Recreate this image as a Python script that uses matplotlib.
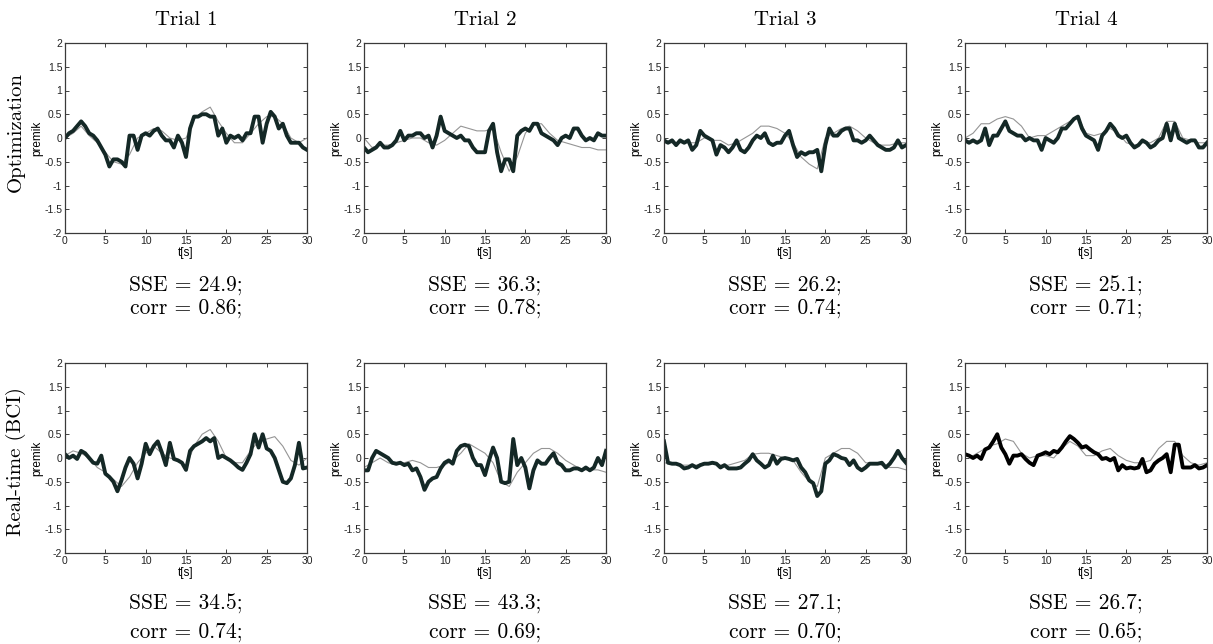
import numpy as np
import matplotlib
matplotlib.use('Agg')
import matplotlib.pyplot as plt

plt.rcParams['axes.unicode_minus'] = False

# Time bases (s): decoded output every 0.5 s, reference movement every 1 s
t_fit = np.arange(0, 30.01, 0.5)
t_ref = np.arange(0, 31, 1.0)

trials = ['Trial 1', 'Trial 2', 'Trial 3', 'Trial 4']
rows = ['Optimization', 'Real-time (BCI)']

# Optimization row: decoded movement (thick)
opt_fit_1 = [0.0, 0.1, 0.15, 0.25, 0.35, 0.25, 0.1, 0.05, -0.05, -0.2,
             -0.35, -0.6, -0.45, -0.45, -0.5, -0.6, 0.05, 0.05, -0.25, 0.05,
             0.1, 0.05, 0.15, 0.2, 0.05, -0.05, -0.05, -0.2, 0.05, -0.1,
             -0.4, 0.2, 0.45, 0.45, 0.5, 0.5, 0.45, 0.45, 0.05, 0.2,
             -0.1, 0.05, 0.0, 0.05, -0.05, 0.1, 0.1, 0.45, 0.45, -0.1,
             0.3, 0.55, 0.45, 0.2, 0.3, 0.05, -0.1, -0.1, -0.1, -0.2,
             -0.25]
opt_fit_2 = [-0.2, -0.3, -0.25, -0.2, -0.1, -0.2, -0.2, -0.15, -0.05, 0.15,
             -0.05, 0.05, 0.05, 0.1, 0.1, 0.0, 0.05, -0.2, 0.05, 0.45,
             0.15, 0.1, 0.05, 0.0, 0.05, -0.05, -0.05, -0.2, -0.3, -0.3,
             -0.3, 0.15, 0.3, -0.3, -0.7, -0.45, -0.45, -0.7, 0.05, 0.15,
             0.2, 0.15, 0.3, 0.3, 0.1, 0.05, 0.0, -0.05, -0.15, 0.0,
             0.05, 0.0, 0.2, 0.2, 0.05, -0.05, 0.0, -0.05, 0.1, 0.05,
             0.05]
opt_fit_3 = [-0.05, -0.1, -0.05, -0.15, -0.05, -0.1, -0.05, -0.25, -0.15, 0.15,
             0.05, 0.0, -0.05, -0.35, -0.15, -0.2, -0.3, -0.2, -0.05, -0.25,
             -0.3, -0.2, -0.05, 0.05, 0.0, 0.1, -0.1, -0.15, -0.1, -0.1,
             0.05, 0.15, -0.15, -0.4, -0.3, -0.35, -0.3, -0.3, -0.25, -0.7,
             -0.15, 0.2, 0.05, 0.05, 0.15, 0.2, 0.2, -0.05, -0.05, -0.1,
             -0.05, 0.05, -0.05, -0.15, -0.2, -0.25, -0.25, -0.2, -0.05, -0.2,
             -0.15]
opt_fit_4 = [-0.05, -0.1, -0.05, -0.1, -0.05, 0.2, -0.15, 0.05, 0.05, 0.2,
             0.35, 0.15, 0.1, 0.05, 0.05, -0.05, 0.0, -0.05, -0.05, -0.25,
             0.0, -0.05, -0.1, 0.0, 0.2, 0.2, 0.3, 0.4, 0.45, 0.2,
             0.05, 0.0, -0.05, -0.25, 0.05, 0.15, 0.3, 0.2, 0.05, 0.0,
             0.05, -0.1, -0.2, -0.15, -0.05, -0.1, -0.2, -0.15, -0.05, 0.0,
             0.3, -0.05, 0.3, 0.0, -0.05, -0.1, -0.05, -0.05, -0.2, -0.2,
             -0.1]

# Real-time (BCI) row: decoded movement (thick)
bci_fit_1 = [0.08, 0.0, 0.05, -0.02, 0.15, 0.1, 0.0, -0.1, -0.12, 0.05,
             -0.33, -0.4, -0.5, -0.7, -0.47, -0.2, 0.0, -0.12, -0.43, -0.12,
             0.3, 0.08, 0.25, 0.35, 0.12, -0.15, 0.32, -0.02, -0.05, -0.1,
             -0.25, 0.15, 0.25, 0.3, 0.35, 0.42, 0.35, 0.42, 0.0, 0.05,
             0.0, -0.05, -0.12, -0.2, -0.25, -0.1, 0.08, 0.5, 0.22, 0.5,
             0.2, 0.15, 0.0, -0.25, -0.5, -0.53, -0.43, -0.15, 0.32, -0.22,
             -0.2]
bci_fit_2 = [-0.26, -0.26, 0.0, 0.15, 0.1, 0.05, 0.0, -0.1, -0.12, -0.1,
             -0.15, -0.12, -0.26, -0.22, -0.4, -0.67, -0.5, -0.43, -0.4, -0.22,
             -0.1, -0.05, -0.12, 0.15, 0.25, 0.28, 0.25, 0.0, -0.15, -0.15,
             -0.36, -0.05, 0.22, 0.0, -0.5, -0.53, -0.5, 0.4, -0.15, 0.0,
             -0.2, -0.64, -0.26, -0.05, -0.12, -0.12, 0.0, 0.1, -0.1, -0.15,
             -0.26, -0.26, -0.22, -0.22, -0.26, -0.2, -0.26, -0.2, 0.0, -0.15,
             0.15]
bci_fit_3 = [0.35, -0.1, -0.12, -0.12, -0.15, -0.22, -0.2, -0.15, -0.2, -0.15,
             -0.12, -0.12, -0.1, -0.12, -0.2, -0.15, -0.22, -0.22, -0.22, -0.2,
             -0.12, -0.05, 0.08, -0.05, -0.12, -0.2, -0.15, 0.05, -0.12, -0.02,
             0.0, -0.02, -0.05, -0.02, -0.2, -0.3, -0.47, -0.53, -0.8, -0.7,
             -0.12, -0.05, 0.08, 0.05, 0.0, -0.02, -0.15, -0.05, -0.2, -0.26,
             -0.2, -0.12, -0.12, -0.12, -0.1, -0.2, -0.12, 0.0, 0.15, 0.0,
             -0.1]
bci_fit_4 = [0.08, 0.05, 0.0, 0.05, -0.02, 0.18, 0.22, 0.35, 0.5, 0.22,
             0.08, -0.12, 0.05, 0.05, 0.08, -0.02, -0.1, -0.15, 0.05, 0.08,
             0.12, 0.08, 0.15, 0.12, 0.22, 0.35, 0.46, 0.4, 0.32, 0.22,
             0.25, 0.18, 0.12, 0.08, -0.02, 0.0, -0.05, 0.0, -0.26, -0.15,
             -0.22, -0.2, -0.22, -0.2, -0.02, -0.3, -0.26, -0.12, -0.05, 0.0,
             0.08, -0.3, 0.28, 0.28, -0.2, -0.2, -0.2, -0.15, -0.22, -0.2,
             -0.15]

# Recorded movement (thin grey)
opt_ref_1 = [0.0, 0.1, 0.25, 0.05, -0.1, -0.3, -0.5, -0.55, -0.35, 0.0,
             0.1, 0.2, 0.15, 0.0, -0.05, 0.0, 0.4, 0.55, 0.65, 0.35,
             0.1, -0.1, -0.1, 0.1, 0.3, 0.45, 0.45, 0.3, 0.0, -0.1, 0.0]
opt_ref_2 = [0.0, -0.2, -0.15, -0.15, -0.1, -0.05, 0.0, 0.0, -0.1, -0.15,
             -0.05, 0.1, 0.25, 0.2, 0.15, 0.15, 0.2, -0.3, -0.7, -0.4,
             0.1, 0.3, 0.3, 0.1, -0.05, -0.1, -0.15, -0.2, -0.2, -0.25, -0.25]
opt_ref_3 = [-0.1, -0.1, -0.1, -0.1, -0.1, 0.0, -0.05, -0.05, -0.15, -0.1,
             0.0, 0.1, 0.25, 0.25, 0.2, 0.1, -0.1, -0.4, -0.55, -0.65,
             0.0, 0.1, 0.2, 0.25, 0.15, 0.0, -0.1, -0.15, -0.15, -0.1, -0.1]
opt_ref_4 = [0.0, 0.1, 0.3, 0.3, 0.4, 0.45, 0.4, 0.25, 0.0, 0.05,
             0.05, 0.15, 0.25, 0.35, 0.45, 0.1, 0.05, 0.1, 0.2, 0.1,
             -0.1, -0.15, -0.1, -0.1, 0.0, 0.35, 0.35, 0.0, -0.05, -0.1, -0.1]
bci_ref_1 = [0.05, 0.15, 0.1, 0.0, -0.2, -0.3, -0.45, -0.6, -0.4, -0.1,
             0.1, 0.25, 0.1, 0.0, -0.05, -0.2, 0.25, 0.5, 0.6, 0.35,
             0.0, -0.1, -0.1, 0.15, 0.35, 0.4, 0.45, 0.25, -0.05, -0.15, 0.0]
bci_ref_2 = [-0.2, -0.1, 0.0, -0.1, -0.15, -0.1, -0.05, -0.1, -0.2, -0.2,
             -0.15, -0.05, 0.1, 0.3, 0.2, 0.1, -0.1, -0.5, -0.6, -0.3,
             -0.1, 0.1, 0.2, 0.2, 0.1, -0.05, -0.15, -0.25, -0.25, -0.25, -0.3]
bci_ref_3 = [-0.1, -0.12, -0.15, -0.15, -0.15, -0.1, -0.12, -0.15, -0.15, -0.1,
             -0.05, 0.08, 0.1, 0.1, 0.05, 0.0, -0.05, -0.3, -0.5, -0.6,
             0.0, 0.1, 0.2, 0.2, 0.1, -0.1, -0.1, -0.15, -0.2, -0.2, -0.25]
bci_ref_4 = [0.05, 0.05, 0.15, 0.25, 0.3, 0.4, 0.35, 0.1, 0.0, 0.05,
             0.05, 0.0, 0.2, 0.35, 0.25, 0.05, 0.05, 0.15, 0.2, 0.05,
             -0.05, -0.1, -0.1, -0.05, 0.2, 0.35, 0.35, 0.05, -0.1, -0.15, -0.1]

opt_sse = [24.9, 36.3, 26.2, 25.1]
opt_corr = [0.86, 0.78, 0.74, 0.71]
bci_sse = [34.5, 43.3, 27.1, 26.7]
bci_corr = [0.74, 0.69, 0.70, 0.65]

fits = [[opt_fit_1, opt_fit_2, opt_fit_3, opt_fit_4],
        [bci_fit_1, bci_fit_2, bci_fit_3, bci_fit_4]]
refs = [[opt_ref_1, opt_ref_2, opt_ref_3, opt_ref_4],
        [bci_ref_1, bci_ref_2, bci_ref_3, bci_ref_4]]
sses = [opt_sse, bci_sse]
corrs = [opt_corr, bci_corr]

W, H = 1213, 644
fig = plt.figure(figsize=(W / 100, H / 100), dpi=100)

lefts = [65, 364, 664, 965]
tops = [43, 363]
aw, ah = 242, 190

serif = 'cmr10'
sans = 'Liberation Sans'
fit_colors = [['#142826'] * 4, ['#142826'] * 3 + ['#000000']]

for r in range(2):
    for c in range(4):
        ax = fig.add_axes([lefts[c] / W, 1 - (tops[r] + ah) / H, aw / W, ah / H])
        ax.plot(t_ref, refs[r][c], color='#959595', lw=0.8)
        ax.plot(t_fit, fits[r][c], color=fit_colors[r][c], lw=2.8,
                solid_joinstyle='round')
        ax.set_xlim(0, 30)
        ax.set_ylim(-2, 2)
        ax.set_xticks(np.arange(0, 31, 5))
        ax.set_yticks(np.arange(-2, 2.01, 0.5))
        ax.yaxis.set_major_formatter('{x:g}')
        ax.tick_params(direction='in', top=True, right=True, length=3,
                       width=0.6, labelsize=7.5, pad=2, colors='#222222')
        for lab in ax.get_xticklabels() + ax.get_yticklabels():
            lab.set_fontfamily(sans)
        for s in ax.spines.values():
            s.set_color('#3a3a3a')
            s.set_linewidth(0.9)
        ax.set_xlabel('t[s]', family=sans, fontsize=8.5, labelpad=1)
        ax.set_ylabel('premik', family=sans, fontsize=8.5, labelpad=1)

        cx = (lefts[c] + aw / 2) / W
        if r == 0:
            fig.text(cx, 1 - 20 / H, trials[c], family=serif, fontsize=15,
                     ha='center', va='center')
        sse_y = [285, 603][r]
        corr_y = [308, 632][r]
        fig.text(cx, 1 - sse_y / H, 'SSE = %.1f;' % sses[r][c],
                 family=serif, fontsize=15.5, ha='center', va='center')
        fig.text(cx, 1 - corr_y / H, 'corr = %.2f;' % corrs[r][c],
                 family=serif, fontsize=15.5, ha='center', va='center')

fig.text(16 / W, 1 - 132 / H, rows[0], family=serif, fontsize=15,
         rotation=90, ha='center', va='center')
fig.text(16 / W, 1 - 462 / H, rows[1], family=serif, fontsize=15,
         rotation=90, ha='center', va='center')

fig.savefig('out.png', dpi=100)
